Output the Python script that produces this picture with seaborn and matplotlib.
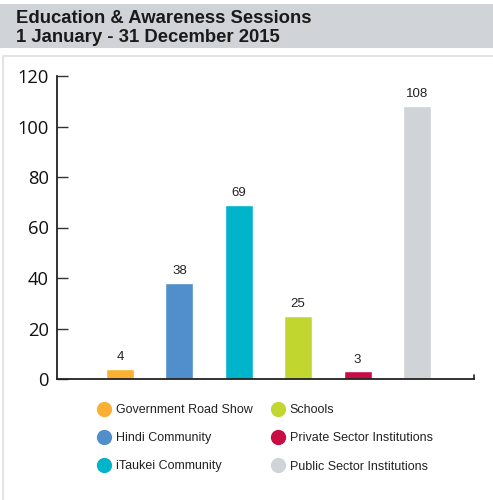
import matplotlib
matplotlib.use("Agg")
import matplotlib.pyplot as plt
from matplotlib.patches import Rectangle
from matplotlib.lines import Line2D
import seaborn as sns
import pandas as pd

# Sessions held per audience group, 2015
categories = [
    "Government Road Show",
    "Hindi Community",
    "iTaukei Community",
    "Schools",
    "Private Sector Institutions",
    "Public Sector Institutions",
]
sessions = [4, 38, 69, 25, 3, 108]
colors = ["#FBB034", "#508FCC", "#00B4CC", "#C1D72F", "#C80C46", "#D0D4D8"]
y_ticks = [0, 20, 40, 60, 80, 100, 120]
title_lines = ["Education & Awareness Sessions", "1 January - 31 December 2015"]

sns.set_theme(style="white")
plt.rcParams["font.family"] = ["Liberation Sans", "DejaVu Sans"]

W, H = 493, 500
fig = plt.figure(figsize=(W / 100, H / 100), dpi=100)
fig.patch.set_facecolor("white")

# Header band and the framed panel below it
fig.patches.append(Rectangle((0, 1 - 48 / H), 1, 44 / H, transform=fig.transFigure,
                             facecolor="#D0D4D8", edgecolor="none", zorder=-2))
fig.patches.append(Rectangle((3 / W, -0.05), 1.0, 1 - 56 / H + 0.05, transform=fig.transFigure,
                             facecolor="white", edgecolor="#DCDEE0", linewidth=1.2, zorder=-2))

fig.text(16 / W, 1 - 23 / H, title_lines[0], fontsize=13.3, fontweight="bold",
         color="#1a1a1a", va="baseline", ha="left")
fig.text(16 / W, 1 - 42 / H, title_lines[1], fontsize=13.3, fontweight="bold",
         color="#1a1a1a", va="baseline", ha="left")

ax = fig.add_axes([57 / W, 121 / H, (474 - 57) / W, 303 / H])
ax.set_facecolor("none")

df = pd.DataFrame({"category": categories, "sessions": sessions})
sns.barplot(data=df, x="category", y="sessions", hue="category",
            palette=dict(zip(categories, colors)), dodge=False, legend=False,
            width=0.47, saturation=1, ax=ax)

# value labels just above each bar
for i, v in enumerate(sessions):
    ax.text(i, v + 3.5, str(v), ha="center", va="baseline", fontsize=9.5, color="#222222")

ax.set_ylim(0, 120)
ax.set_xlim(-1.06, 5.96)
ax.set_yticks(y_ticks)
ax.set_yticklabels([str(t) for t in y_ticks], family="Open Sans", fontsize=13.2, color="#111111")
ax.set_xticks([])
ax.set_xlabel("")
ax.set_ylabel("")
ax.tick_params(axis="y", direction="in", length=8, width=1, color="#333333", pad=6, left=True)
for s in ["top", "right"]:
    ax.spines[s].set_visible(False)
for s in ["left", "bottom"]:
    ax.spines[s].set_color("#222222")
    ax.spines[s].set_linewidth(1.3)
# small end mark on the right of the baseline
ax.plot([1, 1], [0, 0.012], transform=ax.transAxes, color="#222222", lw=1.2, clip_on=False)

handles = [Line2D([], [], marker="o", linestyle="none", markersize=11,
                  markerfacecolor=c, markeredgecolor="none") for c in colors]
fig.legend(handles, categories, ncol=2, loc="upper left",
           bbox_to_anchor=(97.75 / W, 1 - 404 / H), frameon=False,
           fontsize=9, handlelength=1.0, handletextpad=0.46, columnspacing=1.5,
           labelspacing=1.3, borderpad=0, borderaxespad=0,
           labelcolor="#222222")

fig.savefig("out.png", dpi=100)
